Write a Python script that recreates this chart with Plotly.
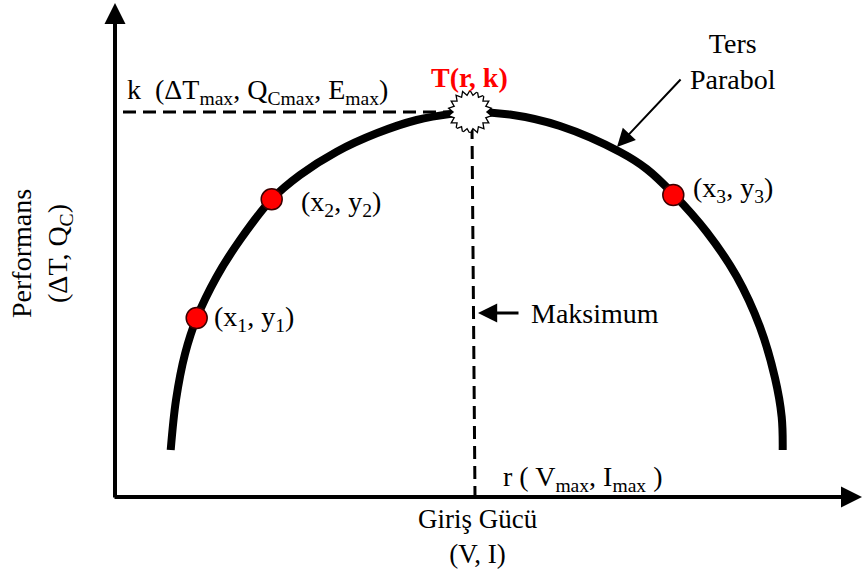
import plotly.graph_objects as go

# curve (origin = where the two axes meet)
curve_x = [55.7, 61, 70, 81.7, 101.7, 125, 156.7, 185, 221.7, 261.7, 301.7, 340,
           353, 395, 445, 505, 531.7, 558.3, 591.7, 621.7, 645, 660, 666.7, 667.7]
curve_y = [47, 97, 143, 179, 220.3, 257, 297.7, 322, 345.3, 363.7, 377, 383.7,
           385, 382.5, 371, 345, 328, 303, 265, 220.5, 170, 119, 80, 47]

point_x = [81.7, 156.7, 558.3]
point_y = [179, 297.7, 302]

r_peak = 355
k_peak = 385

X_END = 747
Y_END = 494

FONT = "Liberation Serif, Times New Roman, serif"

fig = go.Figure()

# dashed guides to the peak
fig.add_trace(go.Scatter(
    x=[8, r_peak], y=[k_peak, k_peak], mode="lines",
    line=dict(color="black", width=3, dash="13px,7px"),
    hoverinfo="skip", showlegend=False,
))
fig.add_trace(go.Scatter(
    x=[r_peak + 2, r_peak + 5], y=[k_peak - 14, 0], mode="lines",
    line=dict(color="black", width=3, dash="13px,7px"),
    hoverinfo="skip", showlegend=False,
))

# inverted parabola
fig.add_trace(go.Scatter(
    x=curve_x, y=curve_y, mode="lines",
    line=dict(color="black", width=8, shape="spline", smoothing=1),
    hoverinfo="skip", showlegend=False,
))

# sample points
fig.add_trace(go.Scatter(
    x=point_x, y=point_y, mode="markers",
    marker=dict(size=21, color="#ff0000", line=dict(color="#3a0000", width=1.5)),
    hoverinfo="skip", showlegend=False,
))

# starburst at the peak: outlined layers, then fills on top to hide inner edges
for ang in (0, 20, 40):
    fig.add_trace(go.Scatter(
        x=[r_peak], y=[k_peak], mode="markers",
        marker=dict(symbol="hexagram", size=31, angle=ang, color="white",
                    line=dict(color="black", width=2.6)),
        hoverinfo="skip", showlegend=False,
    ))
for ang in (0, 20, 40):
    fig.add_trace(go.Scatter(
        x=[r_peak], y=[k_peak], mode="markers",
        marker=dict(symbol="hexagram", size=31, angle=ang, color="white",
                    line=dict(width=0)),
        hoverinfo="skip", showlegend=False,
    ))


def arrow(x, y, ax, ay, width, size):
    fig.add_annotation(
        x=x, y=y, ax=ax, ay=ay, xref="x", yref="y", axref="x", ayref="y",
        text="", showarrow=True, arrowhead=2, arrowwidth=width,
        arrowsize=size, arrowcolor="black", standoff=0, startstandoff=0,
    )


# axes
arrow(0, Y_END, 0, -2, 4, 1.05)
arrow(X_END, 0, -2, 0, 4, 1.05)
# pointers
arrow(502, 350, 567, 419, 2, 1.8)
arrow(363, 184, 405, 184, 3.2, 1.2)


def label(text, x, y, xanchor="left", color="black", size=28, angle=0):
    fig.add_annotation(
        x=x, y=y, xref="x", yref="y", text=text, showarrow=False,
        xanchor=xanchor, yanchor="middle", textangle=angle,
        font=dict(family=FONT, size=size, color=color),
    )


label("k  (ΔT<sub>max</sub>, Q<sub>Cmax</sub>, E<sub>max</sub>)", 10, 406)
label("<b>T(r, k)</b>", 354, 420, xanchor="center", color="#ff0000")
label("Ters<br>Parabol", 618, 436, xanchor="center")
label("(x<sub>1</sub>, y<sub>1</sub>)", 97, 179)
label("(x<sub>2</sub>, y<sub>2</sub>)", 184, 294)
label("(x<sub>3</sub>, y<sub>3</sub>)", 576, 308)
label("Maksimum", 414, 184)
label("r ( V<sub>max</sub>, I<sub>max</sub> )", 386, 19)
label("Giriş Gücü<br>(V, I)", 363, -39, xanchor="center", size=27)
label("Performans<br>(ΔT, Q<sub>C</sub>)", -74, 243, xanchor="center", angle=-90)

fig.update_xaxes(range=[-115, 748], visible=False, fixedrange=True)
fig.update_yaxes(range=[-82, 497], visible=False, fixedrange=True)
fig.update_layout(
    width=863, height=579,
    margin=dict(l=0, r=0, t=0, b=0),
    paper_bgcolor="white", plot_bgcolor="white",
    showlegend=False,
)

fig.write_html("out.html", config={"displayModeBar": False},
               post_script="document.body.style.margin='0';")
